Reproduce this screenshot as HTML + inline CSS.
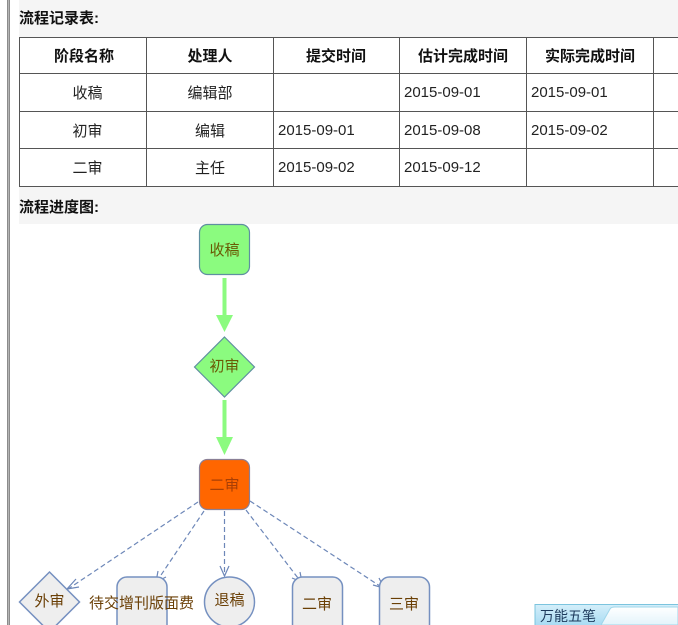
<!DOCTYPE html>
<html>
<head>
<meta charset="utf-8">
<style>
html,body{margin:0;padding:0;background:#fff;width:678px;height:625px;overflow:hidden}
svg{display:block}
text{font-family:"Liberation Sans","Noto Sans CJK SC",sans-serif}
.h{font-size:15px;font-weight:bold;fill:#111;text-anchor:middle}
.b{font-size:15px;fill:#222;text-anchor:middle}
.d{font-size:15px;fill:#222}
.t{font-size:15px;font-weight:bold;fill:#111}
.n{font-size:15px;fill:#6a3f05;text-anchor:middle}
.l{stroke:#555;stroke-width:1;shape-rendering:crispEdges}
.c{stroke:#6d87b8;stroke-width:1.2;stroke-dasharray:5 3;fill:none}
.a{stroke:#6d87b8;stroke-width:1.2;fill:none}
.s{fill:#eeeeee;stroke:#7590c0;stroke-width:1.5}
</style>
</head>
<body>
<svg width="678" height="625" viewBox="0 0 678 625" xmlns="http://www.w3.org/2000/svg">
<defs>
<linearGradient id="tab" x1="0" y1="0" x2="0" y2="1"><stop offset="0" stop-color="#d5effa"/><stop offset="1" stop-color="#a9dcf3"/></linearGradient>
<linearGradient id="tab2" x1="0" y1="0" x2="0" y2="1"><stop offset="0" stop-color="#ffffff"/><stop offset="1" stop-color="#e3f4fb"/></linearGradient>
</defs>
<rect x="7" y="0" width="3" height="625" fill="#8c8c8c"/>
<rect x="8" y="0" width="1" height="625" fill="#b5b5b5"/>
<rect x="19" y="0" width="659" height="224" fill="#f5f5f5"/>
<rect x="19" y="37" width="659" height="149" fill="#fff"/>
<text class="t" x="19" y="23">流程记录表:</text>
<text class="t" x="19" y="212">流程进度图:</text>
<g class="l">
<line x1="19" y1="37.5" x2="678" y2="37.5"/>
<line x1="19" y1="73.5" x2="678" y2="73.5"/>
<line x1="19" y1="111.5" x2="678" y2="111.5"/>
<line x1="19" y1="148.5" x2="678" y2="148.5"/>
<line x1="19" y1="186.5" x2="678" y2="186.5"/>
<line x1="19.5" y1="37" x2="19.5" y2="187"/>
<line x1="146.5" y1="37" x2="146.5" y2="187"/>
<line x1="273.5" y1="37" x2="273.5" y2="187"/>
<line x1="399.5" y1="37" x2="399.5" y2="187"/>
<line x1="526.5" y1="37" x2="526.5" y2="187"/>
<line x1="653.5" y1="37" x2="653.5" y2="187"/>
</g>
<text class="h" x="84" y="61">阶段名称</text>
<text class="h" x="210" y="61">处理人</text>
<text class="h" x="336" y="61">提交时间</text>
<text class="h" x="463" y="61">估计完成时间</text>
<text class="h" x="590" y="61">实际完成时间</text>
<text class="b" x="87.5" y="98">收稿</text>
<text class="b" x="210" y="98">编辑部</text>
<text class="b" x="87.5" y="136">初审</text>
<text class="b" x="210" y="136">编辑</text>
<text class="b" x="87.5" y="173">二审</text>
<text class="b" x="210" y="173">主任</text>
<text class="d" x="404" y="97">2015-09-01</text>
<text class="d" x="531" y="97">2015-09-01</text>
<text class="d" x="278" y="135">2015-09-01</text>
<text class="d" x="404" y="135">2015-09-08</text>
<text class="d" x="531" y="135">2015-09-02</text>
<text class="d" x="278" y="172">2015-09-02</text>
<text class="d" x="404" y="172">2015-09-12</text>

<!-- green arrows -->
<rect x="222.5" y="278" width="4" height="38" fill="#8bfb7f"/>
<polygon points="216,315 233,315 224.5,332" fill="#8bfb7f"/>
<rect x="222.5" y="400" width="4" height="38" fill="#8bfb7f"/>
<polygon points="216,437 233,437 224.5,455" fill="#8bfb7f"/>

<!-- nodes -->
<rect x="199.5" y="224.5" width="50" height="50" rx="8" fill="#8bfb7f" stroke="#5f8fa0" stroke-width="1.2"/>
<text class="n" x="224.5" y="255" style="fill:#6a5a05">收稿</text>
<polygon points="224.5,337 254.5,367 224.5,397 194.5,367" fill="#8bfb7f" stroke="#5f8fa0" stroke-width="1.2"/>
<text class="n" x="224.5" y="371" style="fill:#6a5a05">初审</text>
<rect x="199.5" y="459.5" width="50" height="50" rx="8" fill="#ff6600" stroke="#8a7f95" stroke-width="1.2"/>
<text class="n" x="224.5" y="490" style="fill:#a83f05">二审</text>

<!-- dashed connectors -->
<line class="c" x1="198" y1="502" x2="68" y2="589"/>
<polyline class="a" points="76,579 67,589 79,587"/>
<line class="c" x1="204" y1="511" x2="157" y2="581"/>
<polyline class="a" points="158,571 156,582 166,577"/>
<line class="c" x1="224.5" y1="511" x2="224.5" y2="576"/>
<polyline class="a" points="220,566 224.5,576 229,566"/>
<line class="c" x1="246" y1="510" x2="301" y2="582"/>
<polyline class="a" points="292,578 302,582 300,572"/>
<line class="c" x1="250" y1="501" x2="383" y2="588"/>
<polyline class="a" points="373,585 384,588 379,578"/>

<!-- bottom row -->
<polygon class="s" points="49.5,572 79.5,602 49.5,632 19.5,602"/>
<text class="n" x="49.5" y="606">外审</text>
<rect class="s" x="117" y="577" width="50" height="70" rx="10"/>
<text class="n" x="141.5" y="608">待交增刊版面费</text>
<circle class="s" cx="229.5" cy="602" r="25"/>
<text class="n" x="229.5" y="605">退稿</text>
<rect class="s" x="292.5" y="577" width="50" height="70" rx="10"/>
<text class="n" x="317" y="609">二审</text>
<rect class="s" x="379.5" y="577" width="50" height="70" rx="10"/>
<text class="n" x="404" y="609">三审</text>

<!-- IME tab -->
<path d="M535 625V604H678V625Z" fill="url(#tab)"/>
<path d="M535 625V604.5H678" fill="none" stroke="#7cc4de"/>
<path d="M601 625L610 609Q611 607 615 607H678V625Z" fill="url(#tab2)" stroke="#9fd6ea"/>
<text x="540" y="621" style="font-size:14px;fill:#1d3a5c">万能五笔</text>
</svg>
</body>
</html>
